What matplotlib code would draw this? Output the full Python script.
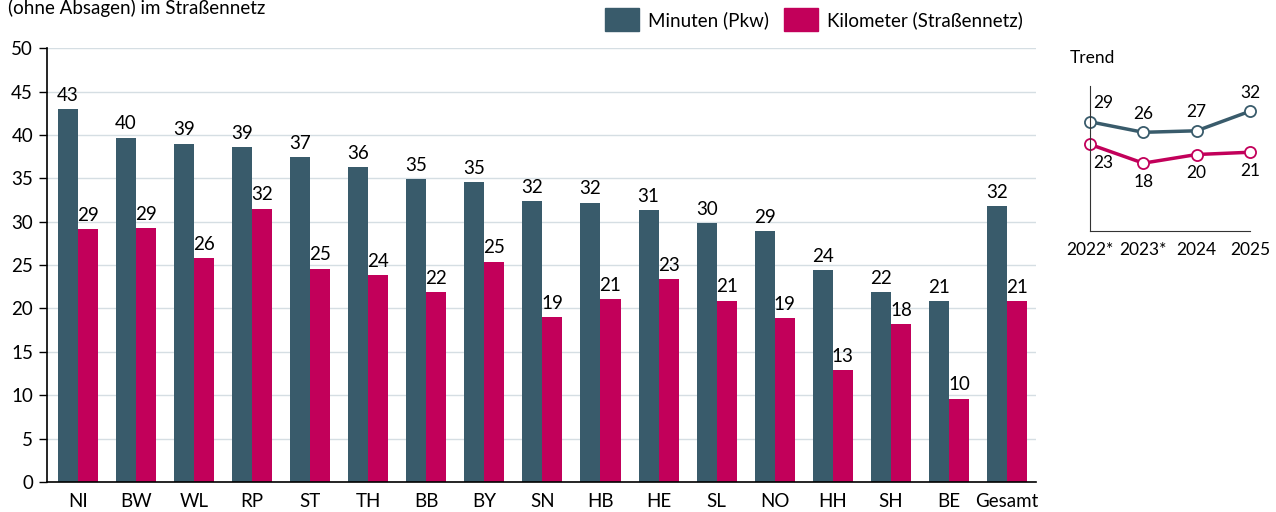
import numpy as np
from matplotlib import pyplot as plt
from matplotlib.patches import Patch

plt.rcParams['font.family'] = ['Lato', 'DejaVu Sans']

# Bundeslaender
laender = ['NI', 'BW', 'WL', 'RP', 'ST', 'TH', 'BB', 'BY', 'SN', 'HB', 'HE',
           'SL', 'NO', 'HH', 'SH', 'BE', 'Gesamt']
minuten = [43.0, 39.7, 39.0, 38.6, 37.4, 36.3, 34.9, 34.6, 32.4, 32.2, 31.3,
           29.8, 28.9, 24.4, 21.85, 20.85, 31.8]
kilometer = [29.1, 29.3, 25.8, 31.5, 24.6, 23.8, 21.85, 25.4, 19.0, 21.1, 23.4,
             20.9, 18.9, 12.9, 18.2, 9.6, 20.85]

# Trend
jahre = ['2022*', '2023*', '2024', '2025']
trend_min = [29.0, 26.2, 26.6, 31.8]
trend_km = [23.0, 18.0, 20.3, 20.9]

c_min = '#395B6B'
c_km = '#C2005A'
fs = 13.5

fig = plt.figure(figsize=(12.76, 5.12), dpi=100)
ax = fig.add_axes([0.0368, 0.0586, 0.7752, 0.8474])

x = np.arange(len(laender))
w = 0.345
ax.bar(x - w / 2, minuten, w, color=c_min, zorder=2)
ax.bar(x + w / 2, kilometer, w, color=c_km, zorder=2)

for xi, v in zip(x, minuten):
    ax.text(xi - w / 2, v + 0.6, f'{v:.0f}', ha='center', va='bottom', fontsize=fs)
for xi, v in zip(x, kilometer):
    ax.text(xi + w / 2, v + 0.6, f'{v:.0f}', ha='center', va='bottom', fontsize=fs)

ax.set_xlim(-0.53, 16.5)
ax.set_ylim(0, 50)
ax.set_yticks(np.arange(0, 51, 5))
ax.set_xticks(x)
ax.set_xticklabels(laender)
ax.tick_params(axis='y', length=6, width=1, labelsize=fs, pad=4)
ax.tick_params(axis='x', length=0, labelsize=fs, pad=8)
ax.grid(axis='y', color='#D5DEE3', linewidth=1, zorder=0)
ax.spines['top'].set_visible(False)
ax.spines['right'].set_visible(False)
ax.spines['left'].set_linewidth(1.2)
ax.spines['bottom'].set_linewidth(1.2)

fig.text(0.006, 0.985, '(ohne Absagen) im Straßennetz', fontsize=fs, va='center', ha='left')

handles = [Patch(color=c_min, label='Minuten (Pkw)'),
           Patch(color=c_km, label='Kilometer (Straßennetz)')]
fig.legend(handles=handles, loc='center', bbox_to_anchor=(0.638, 0.962), ncol=2,
           frameon=False, fontsize=fs, handlelength=1.8, handleheight=1.45,
           handletextpad=0.5, columnspacing=0.8)

# Trend inset
tx = np.arange(len(jahre))
ax2 = fig.add_axes([0.8542, 0.549, 0.1254, 0.283])
ax2.plot(tx, trend_min, color=c_min, lw=2.5, marker='o', ms=8, mfc='white',
         mec=c_min, mew=1.3, clip_on=False)
ax2.plot(tx, trend_km, color=c_km, lw=2.5, marker='o', ms=8, mfc='white',
         mec=c_km, mew=1.3, clip_on=False)
for i, v in enumerate(trend_min):
    dx = 0.25 if i == 0 else 0
    ax2.text(i + dx, v + 2.8, f'{v:.0f}', ha='center', va='bottom', fontsize=12.5)
for i, v in enumerate(trend_km):
    dx = 0.25 if i == 0 else 0
    ax2.text(i + dx, v - 2.8, f'{v:.0f}', ha='center', va='top', fontsize=12.5)
ax2.set_xlim(0, 3)
ax2.set_ylim(0, 38.5)
ax2.set_yticks([])
ax2.set_xticks(tx)
ax2.set_xticklabels(jahre)
ax2.tick_params(axis='x', length=0, labelsize=12.5, pad=8)
ax2.spines['top'].set_visible(False)
ax2.spines['right'].set_visible(False)
ax2.spines['left'].set_color('#333333')
ax2.spines['bottom'].set_color('#333333')
fig.text(0.838, 0.886, 'Trend', fontsize=12.5, va='center', ha='left')

fig.savefig('out.png', dpi=100)
